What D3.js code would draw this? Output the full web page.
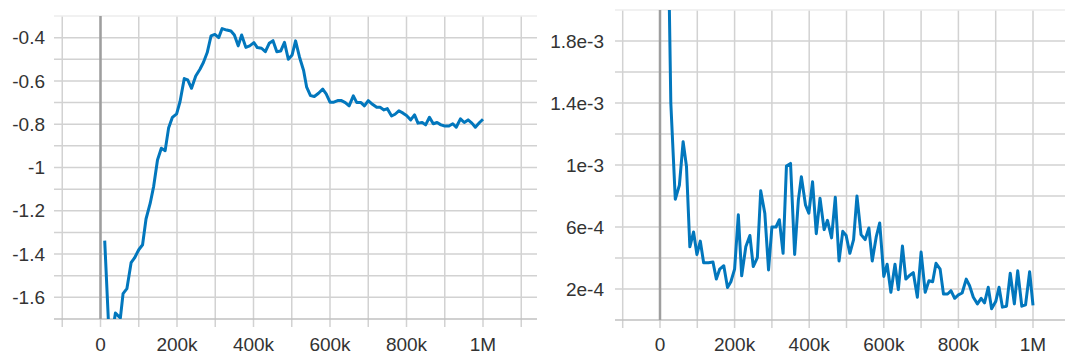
<!DOCTYPE html>
<html>
<head>
<meta charset="utf-8">
<script src="https://cdn.jsdelivr.net/npm/d3@7"></script>
<style>
    body { margin: 0; background: #fff; }
    svg { display: block; font-family: "Liberation Sans", Arial, sans-serif; }
    .grid line { stroke: #d2d2d2; stroke-width: 1.5; }
    .zero { stroke: #9e9e9e; stroke-width: 2.5; }
    .tick-label { fill: #333; font-size: 19px; }
    .series { fill: none; stroke: #0277bd; stroke-width: 3; stroke-linejoin: round; }
</style>
</head>
<body>
<div id="chart"></div>
<script>
// DATA
const xTicks = [0, 200000, 400000, 600000, 800000, 1000000];

// left panel
const leftSteps = [11, 22, 35, 39, 45, 52, 59, 69, 80, 89, 100, 110, 119, 130, 139, 149, 159, 169, 178, 188,
    199, 208, 219, 228, 238, 249, 260, 269, 279, 289, 299, 309, 318, 330, 341, 350, 360, 369, 380, 390,
    401, 410, 421, 431, 441, 451, 461, 471, 481, 491, 501, 510, 520, 531, 539, 549, 559, 570, 581, 590,
    600, 610, 620, 630, 640, 650, 661, 670, 681, 690, 700, 711, 722, 731, 741, 750, 761, 770, 780, 791,
    800, 811, 821, 830, 841, 850, 860, 870, 880, 890, 900, 911, 921, 930, 941, 951, 961, 971, 980, 991, 1000];
const leftValues = [-1.338, -1.76, -1.72, -1.672, -1.683, -1.695, -1.583, -1.56, -1.44, -1.418, -1.38, -1.357, -1.238, -1.165, -1.087, -0.965, -0.911, -0.922, -0.818, -0.768,
    -0.752, -0.695, -0.589, -0.595, -0.634, -0.577, -0.546, -0.515, -0.469, -0.392, -0.385, -0.4, -0.358, -0.365, -0.369, -0.388, -0.438, -0.388, -0.445, -0.438,
    -0.423, -0.446, -0.449, -0.465, -0.426, -0.414, -0.465, -0.462, -0.422, -0.5, -0.48, -0.415, -0.488, -0.552, -0.629, -0.668, -0.672, -0.657, -0.638, -0.66,
    -0.698, -0.698, -0.691, -0.691, -0.7, -0.715, -0.669, -0.7, -0.7, -0.715, -0.691, -0.708, -0.722, -0.722, -0.734, -0.728, -0.762, -0.754, -0.738, -0.749,
    -0.76, -0.78, -0.757, -0.795, -0.792, -0.803, -0.768, -0.798, -0.792, -0.803, -0.808, -0.808, -0.798, -0.814, -0.775, -0.792, -0.78, -0.795, -0.814, -0.792, -0.777];
const leftYTicks = [-1.6, -1.4, -1.2, -1, -0.8, -0.6, -0.4];

// right panel (values in 1e-4)
const rightSteps = [20, 29, 41, 52, 62, 71, 80, 90, 99, 108, 117, 130, 142, 151, 160, 171, 181, 190, 200, 210,
    219, 230, 241, 250, 261, 270, 281, 291, 300, 311, 320, 330, 339, 350, 361, 371, 379, 390, 399, 409,
    419, 429, 440, 449, 460, 470, 480, 490, 499, 509, 519, 528, 539, 550, 560, 569, 580, 589, 600, 609,
    619, 630, 639, 650, 659, 670, 679, 690, 700, 711, 721, 731, 740, 751, 760, 771, 780, 790, 800, 810,
    821, 830, 840, 851, 861, 870, 880, 889, 900, 909, 918, 929, 939, 950, 959, 970, 980, 991, 1000];
const rightValues = [28, 14, 7.79, 8.7, 11.5, 9.9, 4.72, 5.68, 4.23, 5.09, 3.7, 3.7, 3.74, 2.64, 3.28, 3.5, 2.1, 2.47, 3.28, 6.79,
    2.85, 4.72, 5.45, 3.45, 4.02, 8.34, 6.89, 3.23, 6, 6, 6.47, 4.3, 9.94, 10.1, 4.23, 7.75, 9.24, 7.43, 6.89, 8.92,
    5.57, 7.86, 5.83, 6.43, 5.3, 7.92, 3.81, 5.72, 5.45, 4.3, 5.19, 8, 5.51, 5.19, 5.94, 3.81, 5.4, 6.26, 2.81, 3.6,
    1.79, 3.6, 1.96, 4.77, 2.64, 2.89, 3.06, 1.47, 4.38, 1.79, 2.53, 2.47, 3.66, 3.28, 1.68, 1.68, 1.89, 1.4, 1.62, 1.74,
    2.64, 2.21, 1.47, 1.04, 1.4, 1.11, 2.11, 0.72, 1.19, 2.11, 0.83, 0.89, 3.02, 1.04, 3.17, 0.89, 0.98, 3.11, 0.94];
const rightYTicks = [2e-4, 6e-4, 1e-3, 1.4e-3, 1.8e-3];

// LAYOUT
const width = 1065;
const height = 356;

const panels = [
    {
        id: "left",
        steps: leftSteps.map(d => d * 1000),
        values: leftValues,
        yDomain: [-1.7, -0.3],
        yGridStep: 0.1,
        yTicks: leftYTicks,
        yFormat: d => String(d),
        plot: {left: 54, right: 537, top: 16, bottom: 319},
        xRange: [100.5, 483],
        labelX: 45
    },
    {
        id: "right",
        steps: rightSteps.map(d => d * 1000),
        values: rightValues.map(d => d * 1e-4),
        yDomain: [0, 2e-3],
        yGridStep: 2e-4,
        yTicks: rightYTicks,
        yFormat: d => d.toExponential(),
        plot: {left: 615, right: 1065, top: 10, bottom: 320},
        xRange: [660, 1033],
        labelX: 604
    }
];

const svg = d3.select("#chart")
    .append("svg")
    .attr("width", width)
    .attr("height", height);

function drawPanel(p) {
    const g = svg.append("g").attr("id", p.id);

    const x = d3.scaleLinear()
        .domain([0, 1e6])
        .range(p.xRange);

    const y = d3.scaleLinear()
        .domain(p.yDomain)
        .range([p.plot.bottom, p.plot.top]);

    const clipId = `clip-${p.id}`;
    svg.append("clipPath")
        .attr("id", clipId)
        .append("rect")
        .attr("x", p.plot.left)
        .attr("y", p.plot.top)
        .attr("width", p.plot.right - p.plot.left)
        .attr("height", p.plot.bottom - p.plot.top);

    // vertical grid every 100k, running a bit below the plot
    const xGrid = d3.range(-3e5, 1.5e6, 1e5)
        .filter(d => x(d) >= p.plot.left && x(d) <= p.plot.right);

    const grid = g.append("g").classed("grid", true);

    grid.selectAll(".vx")
        .data(xGrid)
        .join("line")
        .attr("x1", d => x(d))
        .attr("x2", d => x(d))
        .attr("y1", p.plot.top)
        .attr("y2", p.plot.bottom + 8);

    const n = Math.round((p.yDomain[1] - p.yDomain[0]) / p.yGridStep);
    const yGrid = d3.range(n + 1).map(i => p.yDomain[0] + i * p.yGridStep);

    grid.selectAll(".hy")
        .data(yGrid)
        .join("line")
        .attr("x1", p.plot.left)
        .attr("x2", p.plot.right)
        .attr("y1", d => y(d))
        .attr("y2", d => y(d))
        .style("stroke", (d, i) => i === 0 ? "#c0c0c0" : (i === n ? "#ececec" : null));

    g.append("line")
        .classed("zero", true)
        .attr("x1", x(0))
        .attr("x2", x(0))
        .attr("y1", p.plot.top)
        .attr("y2", p.plot.bottom);

    // tick labels
    g.selectAll(".ylab")
        .data(p.yTicks)
        .join("text")
        .classed("tick-label", true)
        .attr("x", p.labelX)
        .attr("y", d => y(d))
        .attr("dy", "0.35em")
        .attr("text-anchor", "end")
        .text(p.yFormat);

    g.selectAll(".xlab")
        .data(xTicks)
        .join("text")
        .classed("tick-label", true)
        .attr("x", d => x(d))
        .attr("y", 351)
        .attr("text-anchor", "middle")
        .text(d3.format("~s"));

    const line = d3.line()
        .x((d, i) => x(p.steps[i]))
        .y(d => y(d));

    g.append("path")
        .datum(p.values)
        .classed("series", true)
        .attr("clip-path", `url(#${clipId})`)
        .attr("d", line);
}

panels.forEach(drawPanel);
</script>
</body>
</html>
